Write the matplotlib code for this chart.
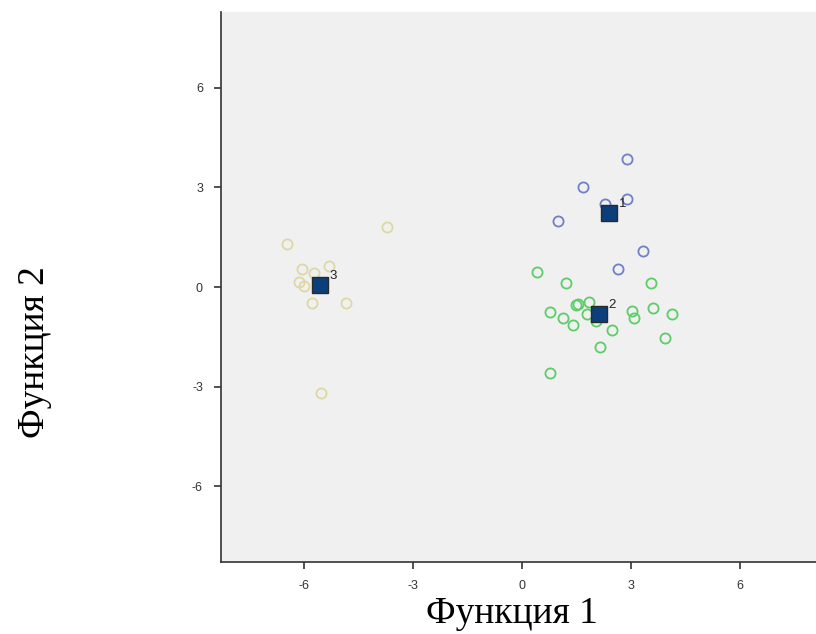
import matplotlib
matplotlib.use("Agg")
import matplotlib.pyplot as plt

# Group 1 (blue)
g1_x = [2.89, 1.68, 2.29, 2.89, 0.99, 3.33, 2.64]
g1_y = [3.86, 3.01, 2.50, 2.65, 1.99, 1.08, 0.54]
# Group 2 (green)
g2_x = [0.41, 1.21, 3.55, 1.49, 1.54, 1.85, 0.77, 1.13, 1.40, 1.79, 2.04, 3.03, 3.09, 3.61, 4.13, 2.48, 3.94, 2.15, 0.77]
g2_y = [0.45, 0.12, 0.12, -0.54, -0.51, -0.45, -0.75, -0.93, -1.14, -0.81, -1.02, -0.72, -0.93, -0.63, -0.81, -1.30, -1.54, -1.81, -2.59]
# Group 3 (tan)
g3_x = [-3.72, -6.47, -6.06, -5.73, -5.32, -6.14, -6.01, -5.79, -4.85, -5.54]
g3_y = [1.81, 1.30, 0.54, 0.42, 0.63, 0.15, 0.03, -0.48, -0.48, -3.19]
# Group centroids
cent_labels = ["1", "2", "3"]
cent_x = [2.40, 2.12, -5.56]
cent_y = [2.23, -0.81, 0.06]

ticks = [-6, -3, 0, 3, 6]
tick_labels = ["-6", "-3", "0", "3", "6"]
x_title = "Функция 1"
y_title = "Функция 2"

fig = plt.figure(figsize=(8.16, 6.34), dpi=100)
ax = fig.add_axes([221/816, 1-562/634, 1-221/816, (562-12)/634])
ax.set_facecolor("#f0f0f0")

ms = 7.3
ax.plot(g1_x, g1_y, 'o', ms=ms, mfc='none', mec='#6f80c8', mew=1.3, ls='none')
ax.plot(g2_x, g2_y, 'o', ms=ms, mfc='none', mec='#5ccd68', mew=1.3, ls='none')
ax.plot(g3_x, g3_y, 'o', ms=ms, mfc='none', mec='#ddd8a4', mew=1.3, ls='none')
ax.plot(cent_x, cent_y, 's', ms=12, mfc='#0b3f7c', mec='#2a2a2a', mew=1.0, ls='none')
for lab, cx, cy in zip(cent_labels, cent_x, cent_y):
    ax.annotate(lab, (cx, cy), xytext=(7, 4), textcoords='offset points',
                fontsize=9.5, family='Liberation Sans', color='#222222')

ax.set_xlim(-8.29, 8.1)
ax.set_ylim(-8.28, 8.28)
ax.set_xticks(ticks)
ax.set_xticklabels(tick_labels)
ax.set_yticks(ticks)
ax.set_yticklabels(tick_labels)
for s in ['top', 'right']:
    ax.spines[s].set_visible(False)
for s in ['left', 'bottom']:
    ax.spines[s].set_linewidth(1.2)
    ax.spines[s].set_color('#333333')
ax.tick_params(direction='out', length=5, width=1.2, color='#333333',
               labelsize=9, labelcolor='#333333', pad=8)
for t in ax.get_xticklabels() + ax.get_yticklabels():
    t.set_family('Liberation Sans')

fig.text(512/816, 1-614/634, x_title, ha='center', va='center',
         fontsize=27, family='Liberation Serif')
fig.text(35/816, 1-352/634, y_title, ha='center', va='center', rotation=90,
         fontsize=27, family='Liberation Serif')

fig.savefig("out.png", dpi=100)
